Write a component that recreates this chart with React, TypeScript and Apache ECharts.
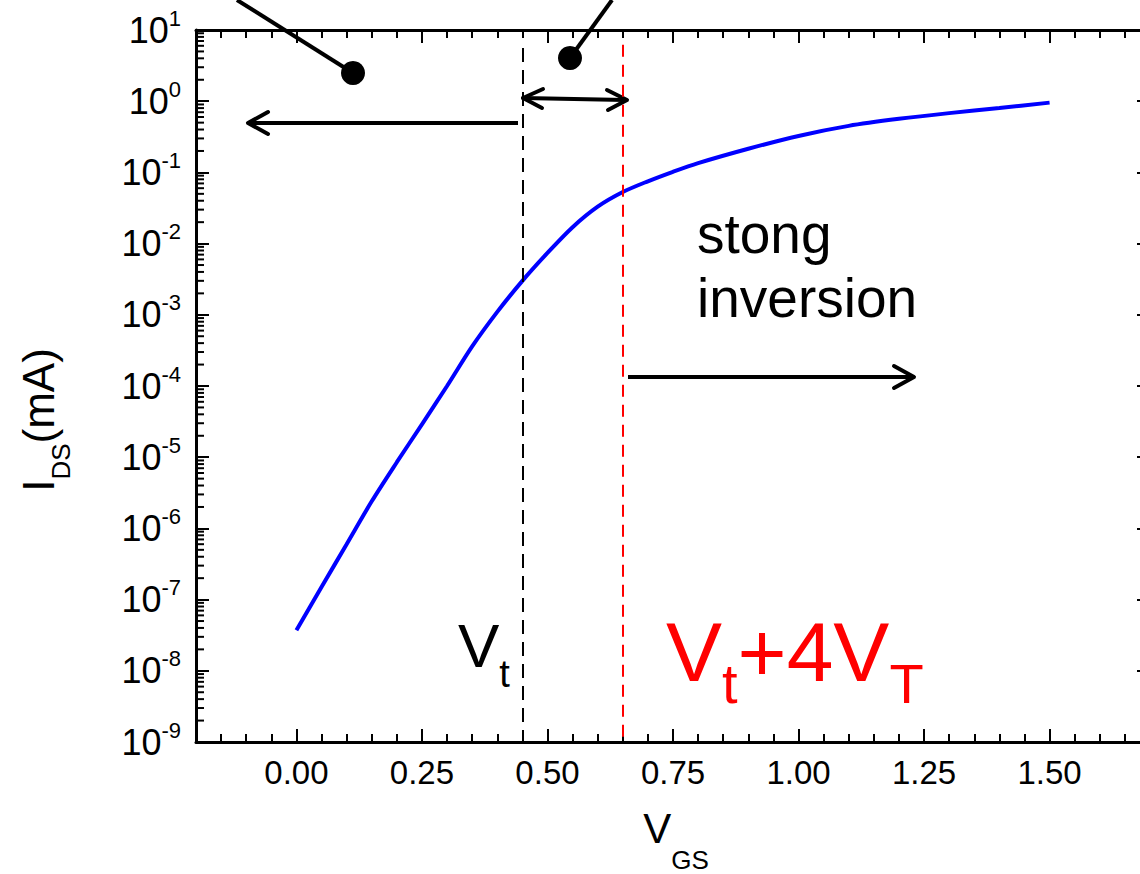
import React, { useEffect, useRef } from "react";
import * as echarts from "echarts";

const FONT = "'Liberation Sans', Arial, Helvetica, sans-serif";

// Gate voltage (V) and drain current (mA)
const vgs = [0, 0.05, 0.1, 0.15, 0.2, 0.25, 0.3, 0.35, 0.4, 0.45, 0.5, 0.55, 0.6, 0.65, 0.7, 0.75, 0.8, 0.9, 1.0, 1.1, 1.2, 1.3, 1.4, 1.5];
const ids = [3.7e-8, 1.5e-7, 6.0e-7, 2.4e-6, 8.5e-6, 2.9e-5, 1.0e-4, 3.6e-4, 1.1e-3, 3.0e-3, 7.4e-3, 0.017, 0.033, 0.053, 0.075, 0.102, 0.135, 0.215, 0.325, 0.45, 0.565, 0.68, 0.8, 0.955];

const xTickValues = [0, 0.25, 0.5, 0.75, 1.0, 1.25, 1.5];
const xMin = -0.2;
const xMax = 1.7;
const yMin = 1e-9;
const yMax = 10;
const vtValue = 0.45;
const vt4Value = 0.65;
const decadeExponents = [-9, -8, -7, -6, -5, -4, -3, -2, -1, 0];
const minorMultipliers = [2, 3, 4, 5, 6, 7, 8, 9];

const GRID = { left: 196, top: 30, width: 954, height: 712 };

export default function App() {
  const ref = useRef<HTMLDivElement>(null);

  useEffect(() => {
    if (!ref.current) return;
    const chart = echarts.init(ref.current, null, { renderer: "svg" });

    const minorLogTicks: number[][] = [];
    decadeExponents.forEach((e) => {
      minorMultipliers.forEach((k) => {
        minorLogTicks.push([xMin, k * Math.pow(10, e)]);
      });
    });

    const axisLine = { show: true, onZero: false, lineStyle: { color: "#000", width: 3 } };
    const majorTick = (custom?: number[]) => ({
      show: true,
      inside: true,
      length: 13,
      lineStyle: { color: "#000", width: 2 },
      ...(custom ? { customValues: custom } : {}),
    });
    const minorXAxis = (position: string) => ({
      type: "value",
      position,
      min: xMin,
      max: xMax,
      interval: 0.05,
      axisLine: { show: false },
      axisTick: { show: true, inside: true, length: 8, lineStyle: { color: "#000", width: 2 } },
      axisLabel: { show: false },
      splitLine: { show: false },
    });

    const option: any = {
      animation: false,
      backgroundColor: "#fff",
      grid: { ...GRID, containLabel: false },
      xAxis: [
        {
          type: "value",
          position: "bottom",
          min: xMin,
          max: xMax,
          axisLine,
          axisTick: majorTick(xTickValues),
          axisLabel: {
            customValues: xTickValues,
            formatter: (v: number) => v.toFixed(2),
            fontSize: 33,
            fontFamily: FONT,
            color: "#000",
            margin: 14,
          },
          splitLine: { show: false },
        },
        minorXAxis("bottom"),
        {
          type: "value",
          position: "top",
          min: xMin,
          max: xMax,
          axisLine,
          axisTick: majorTick(xTickValues),
          axisLabel: { show: false },
          splitLine: { show: false },
        },
        minorXAxis("top"),
      ],
      yAxis: [
        {
          type: "log",
          logBase: 10,
          position: "left",
          min: yMin,
          max: yMax,
          splitNumber: 10,
          axisLine,
          axisTick: majorTick(),
          axisLabel: {
            formatter: (v: number) => `{b|10}{s|${Math.round(Math.log10(v))}}`,
            margin: 15,
            rich: {
              b: { fontSize: 36, fontFamily: FONT, color: "#000" },
              s: { fontSize: 22, fontFamily: FONT, color: "#000", padding: [0, 0, 24, 0] },
            },
          },
          splitLine: { show: false },
        },
        {
          type: "log",
          logBase: 10,
          position: "right",
          min: yMin,
          max: yMax,
          splitNumber: 10,
          axisLine,
          axisTick: majorTick(),
          axisLabel: { show: false },
          splitLine: { show: false },
        },
      ],
      series: [
        {
          type: "line",
          xAxisIndex: 0,
          yAxisIndex: 0,
          data: vgs.map((v, i) => [v, ids[i]]),
          showSymbol: false,
          smooth: 0.3,
          lineStyle: { color: "#0000ff", width: 4 },
          markLine: {
            silent: true,
            symbol: ["none", "none"],
            label: { show: false },
            data: [
              [
                { coord: [vtValue, 5.6], lineStyle: { color: "#000", width: 2, type: [14, 8] } },
                { coord: [vtValue, yMin] },
              ],
              [
                { coord: [vt4Value, 6.2], lineStyle: { color: "#ff0000", width: 2, type: [12, 8] } },
                { coord: [vt4Value, yMin] },
              ],
            ],
          },
        },
        {
          type: "custom",
          xAxisIndex: 0,
          yAxisIndex: 0,
          silent: true,
          data: minorLogTicks,
          renderItem: (_params: any, api: any) => {
            const p = api.coord([api.value(0), api.value(1)]);
            return {
              type: "line",
              shape: { x1: p[0], y1: p[1], x2: p[0] + 8, y2: p[1] },
              style: { stroke: "#000", lineWidth: 2 },
            };
          },
        },
      ],
      graphic: [
        // pointer lines and dots
        { type: "line", shape: { x1: 237, y1: 0, x2: 353, y2: 73 }, style: { stroke: "#000", lineWidth: 4 } },
        { type: "circle", shape: { cx: 353, cy: 73, r: 12 }, style: { fill: "#000" } },
        { type: "line", shape: { x1: 612, y1: 0, x2: 570, y2: 58 }, style: { stroke: "#000", lineWidth: 4 } },
        { type: "circle", shape: { cx: 570, cy: 58, r: 12 }, style: { fill: "#000" } },
        // double arrow between Vt and Vt+4VT
        { type: "line", shape: { x1: 523, y1: 98, x2: 625, y2: 100 }, style: { stroke: "#000", lineWidth: 4, lineCap: "round" } },
        { type: "polyline", shape: { points: [[543, 89], [523, 98], [542, 108]] }, style: { stroke: "#000", lineWidth: 4, fill: "none", lineCap: "round", lineJoin: "round" } },
        { type: "polyline", shape: { points: [[607, 90], [627, 100], [608, 110]] }, style: { stroke: "#000", lineWidth: 4, fill: "none", lineCap: "round", lineJoin: "round" } },
        // left arrow
        { type: "line", shape: { x1: 518, y1: 123, x2: 250, y2: 123 }, style: { stroke: "#000", lineWidth: 4 } },
        { type: "polyline", shape: { points: [[268, 112], [248, 123], [268, 134]] }, style: { stroke: "#000", lineWidth: 4, fill: "none", lineCap: "round", lineJoin: "round" } },
        // right arrow
        { type: "line", shape: { x1: 628, y1: 377, x2: 912, y2: 377 }, style: { stroke: "#000", lineWidth: 4 } },
        { type: "polyline", shape: { points: [[894, 366], [914, 377], [894, 388]] }, style: { stroke: "#000", lineWidth: 4, fill: "none", lineCap: "round", lineJoin: "round" } },
        // texts
        {
          type: "text",
          x: 697,
          y: 202,
          style: { text: "stong\ninversion", fontSize: 55, lineHeight: 64, fontFamily: FONT, fill: "#000", align: "left", verticalAlign: "top" },
        },
        {
          type: "text",
          x: 458,
          y: 645,
          style: {
            text: "{a|V}{b|t}",
            align: "left",
            verticalAlign: "middle",
            rich: {
              a: { fontSize: 62, fontFamily: FONT, fill: "#000" },
              b: { fontSize: 38, fontFamily: FONT, fill: "#000", padding: [57, 0, 0, 0] },
            },
          },
        },
        {
          type: "text",
          x: 666,
          y: 652,
          style: {
            text: "{a|V}{b|t}{a|+4V}{b|T}",
            align: "left",
            verticalAlign: "middle",
            rich: {
              a: { fontSize: 84, fontFamily: FONT, fill: "#ff0000" },
              b: { fontSize: 56, fontFamily: FONT, fill: "#ff0000", padding: [62, 0, 0, 0] },
            },
          },
        },
        {
          type: "text",
          x: 676,
          y: 828,
          style: {
            text: "{a|V}{b|GS}",
            align: "center",
            verticalAlign: "middle",
            rich: {
              a: { fontSize: 42, fontFamily: FONT, fill: "#000" },
              b: { fontSize: 26, fontFamily: FONT, fill: "#000", padding: [64, 0, 0, 0] },
            },
          },
        },
        {
          type: "text",
          x: 38,
          y: 420,
          rotation: Math.PI / 2,
          style: {
            text: "{a|I}{b|DS}{a|(mA)}",
            align: "center",
            verticalAlign: "middle",
            rich: {
              a: { fontSize: 44, fontFamily: FONT, fill: "#000" },
              b: { fontSize: 26, fontFamily: FONT, fill: "#000", padding: [46, 0, 0, 0] },
            },
          },
        },
      ],
    };

    chart.setOption(option);
    return () => chart.dispose();
  }, []);

  return (
    <div style={{ position: "absolute", left: 0, top: 0, width: 1140, height: 874, overflow: "hidden", background: "#fff" }}>
      <div ref={ref} style={{ width: 1152, height: 874 }} />
    </div>
  );
}
